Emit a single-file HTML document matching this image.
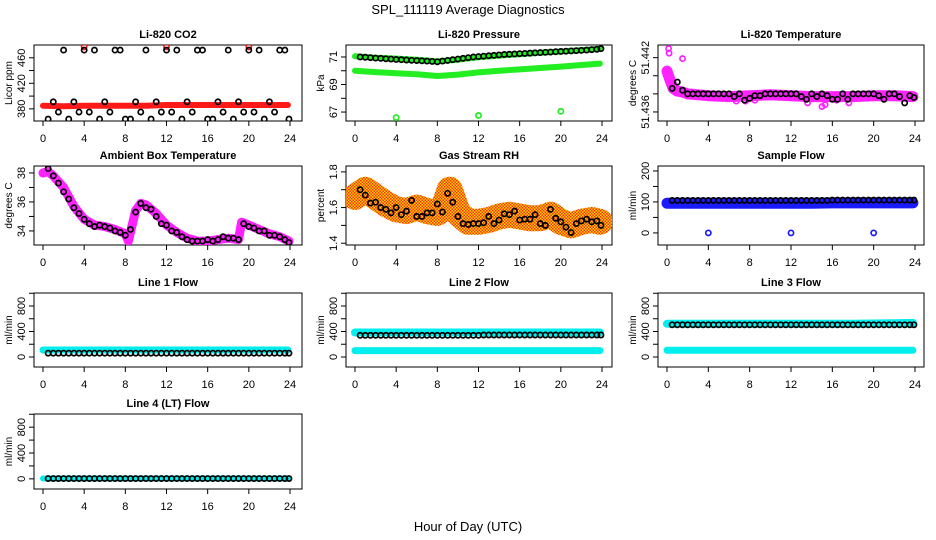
<!DOCTYPE html>
<html><head><meta charset="utf-8"><style>
html,body{margin:0;padding:0;background:#fff;}
svg{display:block;font-family:"Liberation Sans",Arial,sans-serif;}
</style></head><body>
<svg id="chart" width="936" height="540" viewBox="0 0 936 540">
<defs>
<pattern id="rhpat" width="3" height="3" patternUnits="userSpaceOnUse"><rect width="3" height="3" fill="#ffd200"/><rect width="1.5" height="1.5" fill="#f03010"/><rect x="1.5" y="1.5" width="1.5" height="1.5" fill="#f03010"/></pattern>
</defs>
<text x="468" y="14" text-anchor="middle" font-size="13">SPL_111119  Average Diagnostics</text>
<text x="468" y="531" text-anchor="middle" font-size="13">Hour of Day (UTC)</text>
</svg>
<script>
const hours=[0.5,1,1.5,2,2.5,3,3.5,4,4.5,5,5.5,6,6.5,7,7.5,8,8.5,9,9.5,10,10.5,11,11.5,12,12.5,13,13.5,14,14.5,15,15.5,16,16.5,17,17.5,18,18.5,19,19.5,20,20.5,21,21.5,22,22.5,23,23.5,23.9];
const bandHours=[0,2,4,6,8,10,12,14,16,18,20,22,23.8];
const xTicks=[0,4,8,12,16,20,24];
const outlierHours=[4,12,20];

const co2Black=[364,391,375,472,364,391,375,472,375,472,364,391,375,472,472,364,364,391,375,472,364,391,375,472,375,472,364,391,375,472,472,364,364,391,375,472,364,391,375,472,375,472,364,391,375,472,472,364];
const co2Red=[385,384,385,385,385,385,386,386,386,386,386,386,386];
const co2RedOut=[477,477,477];

const presBlack=[71.0,70.98,70.95,70.92,70.9,70.87,70.85,70.82,70.8,70.78,70.76,70.74,70.72,70.7,70.68,70.65,70.7,70.75,70.8,70.85,70.9,70.95,71.0,71.03,71.06,71.09,71.12,71.15,71.18,71.2,71.22,71.24,71.26,71.28,71.3,71.32,71.34,71.36,71.38,71.4,71.42,71.44,71.46,71.48,71.5,71.53,71.56,71.6];
const presGreenHi=[71.05,70.95,70.88,70.8,70.68,70.8,70.98,71.1,71.2,71.3,71.4,71.5,71.6];
const presGreenLo=[70.0,69.9,69.82,69.75,69.62,69.72,69.88,70.0,70.1,70.2,70.3,70.42,70.52];
const presGreenOut=[66.6,66.75,67.05];

const tempBlack=[51.4386,51.4393,51.4384,51.4380,51.4380,51.4380,51.4380,51.4380,51.4380,51.4380,51.4380,51.4380,51.4377,51.4380,51.4373,51.4375,51.4378,51.4378,51.4380,51.4380,51.4380,51.4380,51.4380,51.4380,51.4380,51.4377,51.4374,51.4380,51.4377,51.4380,51.4378,51.4374,51.4374,51.4380,51.4374,51.4380,51.4380,51.4380,51.4380,51.4380,51.4378,51.4374,51.4380,51.4380,51.4377,51.4370,51.4378,51.4376];
const tempBandHours=[0,0.3,0.6,1,1.5,2,3,4,6,8,10,12,14,16,18,20,22,23.8];
const tempMagenta=[51.4405,51.4395,51.4386,51.4383,51.4382,51.4380,51.4379,51.4378,51.4377,51.4378,51.4379,51.4378,51.4377,51.4377,51.4377,51.4378,51.4378,51.4377];
const tempMagOutX=[0.15,0.2,1.5,6.7,7.6,8.5,13.6,15,15.3,16.4,17.6];
const tempMagOutY=[51.4430,51.4425,51.4419,51.4372,51.4372,51.4373,51.4370,51.4366,51.4368,51.4373,51.4370];

const ambBlack=[38.3,37.8,37.3,36.7,36.2,35.6,35.2,34.8,34.5,34.3,34.4,34.3,34.2,34.0,33.9,33.7,34.1,35.3,35.9,35.6,35.5,35.0,34.5,34.4,34.0,33.9,33.6,33.4,33.3,33.3,33.3,33.4,33.3,33.4,33.6,33.5,33.5,33.4,34.5,34.3,34.2,34.0,34.0,33.7,33.7,33.6,33.4,33.2];
const ambBandHours=[0,0.5,1,2,3,4,5,6,7,8,8.3,9,9.5,10,11,12,13,14,15,16,17,18,19,19.3,20,21,22,23,23.9];
const ambMagenta=[38.0,38.1,37.8,37.0,35.7,34.8,34.4,34.3,34.1,33.8,33.3,35.4,35.9,35.8,35.2,34.4,33.9,33.5,33.3,33.3,33.4,33.5,33.4,34.6,34.4,34.1,33.8,33.6,33.3];

const rhBlack=[1.70,1.67,1.625,1.63,1.60,1.59,1.57,1.60,1.56,1.58,1.64,1.55,1.55,1.57,1.57,1.62,1.575,1.68,1.63,1.55,1.51,1.505,1.51,1.51,1.515,1.55,1.51,1.53,1.565,1.56,1.58,1.53,1.535,1.535,1.56,1.51,1.50,1.59,1.54,1.52,1.49,1.46,1.51,1.525,1.535,1.52,1.525,1.50];
const rhBandHours=[0,1,2,3,4,5,6,7,8,8.6,9.2,10,11,12,13,14,15,16,17,18,19,20,21,22,23,23.8];
const rhBand=[1.66,1.70,1.66,1.62,1.59,1.58,1.60,1.58,1.57,1.60,1.70,1.57,1.52,1.52,1.53,1.55,1.56,1.55,1.54,1.54,1.56,1.52,1.50,1.52,1.53,1.52];

const sampBlack=[105,105,105,105,105,105,105,105,105,105,105,105,105,105,105,105,105,105,105,105,105,105,105,105,105,105,105,105,105,105,105,106,106,106,106,106,106,106,106,106,106,106,106,106,106,106,106,106];
const sampBlue=[96,96,96,96,96,96,96,96,97,97,97,97,97];
const sampBlueOut=[0,0,0];

const l1Black=[60,60,60,60,60,60,60,60,60,60,60,60,60,60,60,60,60,60,60,60,60,60,60,60,60,60,60,60,60,60,60,60,60,60,60,60,60,60,60,60,60,60,60,60,60,60,60,60];
const l1Cyan=[110,110,110,110,110,110,110,110,110,110,110,110,110];
const l2Black=[340,340,340,340,340,340,340,340,340,340,340,340,340,340,340,340,340,340,340,340,340,340,340,340,345,345,345,345,345,345,345,345,345,345,345,345,345,345,345,345,345,345,345,345,345,345,345,345];
const l2CyanHi=[385,385,385,385,385,385,385,385,385,385,385,385,385];
const l2CyanLo=[100,100,100,100,100,100,100,100,100,100,100,100,100];
const l3Black=[505,505,505,505,505,505,505,505,505,505,505,505,505,505,505,505,505,505,505,505,505,505,505,505,505,505,505,505,505,505,505,505,505,505,505,505,505,505,505,505,505,505,505,505,505,505,505,505];
const l3CyanHi=[520,520,520,520,520,520,520,520,520,520,525,530,535];
const l3CyanLo=[105,105,105,105,105,105,105,105,105,105,105,105,105];
const l4Black=[5,5,5,5,5,5,5,5,5,5,5,5,5,5,5,5,5,5,5,5,5,5,5,5,5,5,5,5,5,5,5,5,5,5,5,5,5,5,5,5,5,5,5,5,5,5,5,5];
const l4Cyan=[5,5,5,5,5,5,5,5,5,5,5,5,5];
</script>
<script>
const NS="http://www.w3.org/2000/svg";
const svg=document.getElementById('chart');
const cols=[{L:34,R:302,x0:43,x24:290},{L:346,R:612,x0:355,x24:602},{L:658,R:924,x0:667,x24:915}];
const rows=[{T:45,B:121},{T:166,B:245},{T:293,B:367},{T:414,B:489}];
function mk(tag,attrs,parent){const e=document.createElementNS(NS,tag);for(const k in attrs)e.setAttribute(k,attrs[k]);(parent||svg).appendChild(e);return e;}
function panel(key,title,ylab,r,c,dom,ticks,labels){
  const g=mk('g',{});
  
  
  const C=cols[c],R=rows[r];
  const xs=v=>C.x0+(C.x24-C.x0)*v/24;
  const ys=v=>R.B-(v-dom[0])/(dom[1]-dom[0])*(R.B-R.T);
  const box=mk('rect',{x:C.L,y:R.T,width:C.R-C.L,height:R.B-R.T,fill:'none',stroke:'#000','stroke-width':1},g);
  
  
  const t=mk('text',{x:(C.L+C.R)/2,y:R.T-7,'text-anchor':'middle','font-size':11,'font-weight':'bold'},g);
  t.textContent=title;
  
  
  const yl=mk('text',{transform:`translate(${C.L-22},${(R.T+R.B)/2}) rotate(-90)`,'text-anchor':'middle','font-size':10},g);
  yl.textContent=ylab;
  
  
  const xa=mk('g',{},g);
  
  
  mk('line',{x1:xs(0),x2:xs(24),y1:R.B,y2:R.B,stroke:'#000'},xa);
  xTicks.forEach(v=>{mk('line',{x1:xs(v),x2:xs(v),y1:R.B,y2:R.B+5,stroke:'#000'},xa);
    const tl=mk('text',{x:xs(v),y:R.B+21,'text-anchor':'middle','font-size':11},xa);tl.textContent=v;
    
    });
  const ya=mk('g',{},g);
  
  
  ticks.forEach(v=>{mk('line',{x1:C.L-5,x2:C.L,y1:ys(v),y2:ys(v),stroke:'#000'},ya);});
  labels.forEach(v=>{const tl=mk('text',{transform:`translate(${C.L-9},${ys(v)}) rotate(-90)`,'text-anchor':'middle','font-size':11},ya);tl.textContent=v;
    
    });
  const clip='clip-'+key;
  const cp=mk('clipPath',{id:clip},g);mk('rect',{x:C.L,y:R.T,width:C.R-C.L,height:R.B-R.T},cp);
  const marks=mk('g',{'clip-path':`url(#${clip})`},g);
  
  
  return {xs,ys,marks};
}
function band(p,xsArr,vals,color,w,name){
  const d=xsArr.map((x,i)=>(i?'L':'M')+p.xs(x).toFixed(1)+','+p.ys(vals[i]).toFixed(1)).join('');
  const e=mk('path',{d,fill:'none',stroke:color,'stroke-width':w,'stroke-linejoin':'round','stroke-linecap':'round'},p.marks);
  
  
}
function pts(p,xsArr,vals,color,name,r){
  xsArr.forEach((x,i)=>{const e=mk('circle',{cx:p.xs(x),cy:p.ys(vals[i]),r:r||2.6,fill:'none',stroke:color,'stroke-width':1.7},p.marks);
    
    });
}
const flowTicks=[0,200,400,600,800,1000],flowLabels=[0,400,800],flowDom=[-157,1004];
let p;
p=panel('co2','Li-820 CO2','Licor ppm',0,0,[361,480],[380,400,420,440,460],[380,420,460]);
band(p,bandHours,co2Red,'#ff1a1a',6,'co2-red-band');
pts(p,outlierHours,co2RedOut,'#ff1a1a','co2-red-outlier');
pts(p,hours,co2Black,'#000','co2-point');
p=panel('pressure','Li-820 Pressure','kPa',0,1,[66.35,71.87],[67,68,69,70,71],[67,69,71]);
band(p,bandHours,presGreenHi,'#22ee22',6,'pressure-green-band-upper');
band(p,bandHours,presGreenLo,'#22ee22',6,'pressure-green-band-lower');
pts(p,outlierHours,presGreenOut,'#22ee22','pressure-green-outlier');
pts(p,hours,presBlack,'#000','pressure-point');
p=panel('temperature','Li-820 Temperature','degrees C',0,2,[51.4350,51.4434],[51.436,51.438,51.440,51.442],[51.436,51.442]);
band(p,tempBandHours,tempMagenta,'#ff22ff',11,'temperature-magenta-band');
pts(p,tempMagOutX,tempMagOutY,'#ff22ff','temperature-magenta-outlier');
pts(p,hours,tempBlack,'#000','temperature-point');
p=panel('ambient','Ambient Box Temperature','degrees C',1,0,[33.03,38.48],[34,35,36,37,38],[34,36,38]);
band(p,ambBandHours,ambMagenta,'#ff22ff',9,'ambient-magenta-band');
pts(p,hours,ambBlack,'#000','ambient-point');
p=panel('rh','Gas Stream RH','percent',1,1,[1.39,1.833],[1.4,1.5,1.6,1.7,1.8],[1.4,1.6,1.8]);
band(p,rhBandHours,rhBand,'url(#rhpat)',26,'rh-band');
pts(p,hours,rhBlack,'#000','rh-point');
p=panel('sample','Sample Flow','ml/min',1,2,[-39,216],[0,50,100,150,200],[0,100,200]);
band(p,bandHours,sampBlue,'#1a1aff',11,'sample-blue-band');
pts(p,outlierHours,sampBlueOut,'#1a1aff','sample-blue-outlier');
pts(p,hours,sampBlack,'#000','sample-point');
p=panel('line1','Line 1 Flow','ml/min',2,0,flowDom,flowTicks,flowLabels);
band(p,bandHours,l1Cyan,'#00eeee',7,'line1-cyan-band');
pts(p,hours,l1Black,'#000','line1-point');
p=panel('line2','Line 2 Flow','ml/min',2,1,flowDom,flowTicks,flowLabels);
band(p,bandHours,l2CyanHi,'#00eeee',8,'line2-cyan-band-upper');
band(p,bandHours,l2CyanLo,'#00eeee',7,'line2-cyan-band-lower');
pts(p,hours,l2Black,'#000','line2-point');
p=panel('line3','Line 3 Flow','ml/min',2,2,flowDom,flowTicks,flowLabels);
band(p,bandHours,l3CyanHi,'#00eeee',8,'line3-cyan-band-upper');
band(p,bandHours,l3CyanLo,'#00eeee',7,'line3-cyan-band-lower');
pts(p,hours,l3Black,'#000','line3-point');
p=panel('line4','Line 4 (LT) Flow','ml/min',3,0,flowDom,flowTicks,flowLabels);
band(p,bandHours,l4Cyan,'#00eeee',6,'line4-cyan-band');
pts(p,hours,l4Black,'#000','line4-point');
</script>
</body></html>
